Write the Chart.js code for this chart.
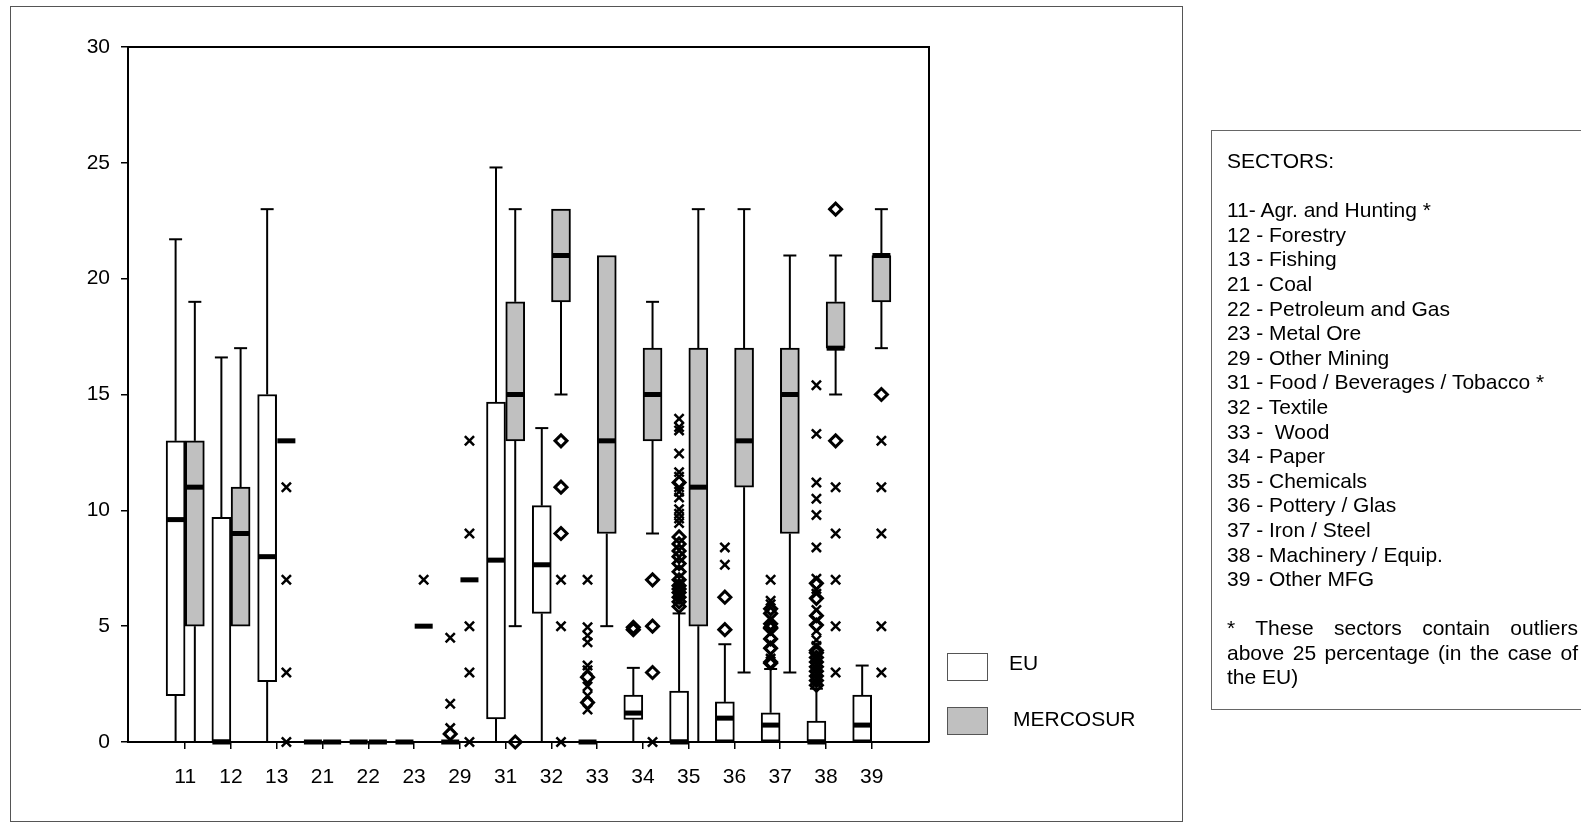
<!DOCTYPE html>
<html>
<head>
<meta charset="utf-8">
<title>EU / MERCOSUR by sector</title>
<script src="https://cdn.jsdelivr.net/npm/chart.js"></script>
<style>
    html, body { margin: 0; padding: 0; background: #fff; overflow: hidden; }
    body { width: 1581px; height: 823px; position: relative; font-family: "Liberation Sans", Arial, sans-serif; color: #000; }
    .frame { position: absolute; left: 10px; top: 6px; width: 1173px; height: 816px; border: 1px solid #555; box-sizing: border-box; }
    .chart-wrap { position: absolute; left: 0; top: 0; width: 1581px; height: 823px; }
    .swatch { position: absolute; left: 947px; width: 41px; height: 28px; border: 1px solid #555; box-sizing: border-box; }
    .legend-label { position: absolute; font-size: 21px; line-height: 24px; }
    .sectors { position: absolute; left: 1211px; top: 130px; width: 420px; height: 580px; border: 1px solid #666; box-sizing: border-box; padding: 18px 0 0 15px; font-size: 21px; line-height: 24.6px; }
    .sectors div { white-space: pre; }
    .sectors p { margin: 0; width: 351px; text-align: justify; }
</style>
</head>
<body>
    <div class="frame"></div>
    <div class="chart-wrap"><canvas id="boxChart"></canvas></div>

    <div class="swatch" style="top:653px; background:#fff;"></div>
    <div class="legend-label" style="left:1009px; top:651px;">EU</div>
    <div class="swatch" style="top:707px; background:#c0c0c0;"></div>
    <div class="legend-label" style="left:1013px; top:707px;">MERCOSUR</div>

    <div class="sectors">
        <div>SECTORS:</div>
        <div> </div>
        <div>11- Agr. and Hunting *</div>
        <div>12 - Forestry</div>
        <div>13 - Fishing</div>
        <div>21 - Coal</div>
        <div>22 - Petroleum and Gas</div>
        <div>23 - Metal Ore</div>
        <div>29 - Other Mining</div>
        <div>31 - Food / Beverages / Tobacco *</div>
        <div>32 - Textile</div>
        <div>33 -  Wood</div>
        <div>34 - Paper</div>
        <div>35 - Chemicals</div>
        <div>36 - Pottery / Glas</div>
        <div>37 - Iron / Steel</div>
        <div>38 - Machinery / Equip.</div>
        <div>39 - Other MFG</div>
        <div> </div>
        <p>* These sectors contain outliers above 25 percentage (in the case of the EU)</p>
    </div>

<script>
    const categories = ['11', '12', '13', '21', '22', '23', '29', '31', '32', '33', '34', '35', '36', '37', '38', '39'];

    // EU boxes
    const euLow    = [0, 0, 0, 0, 0, 0, 0, 0, 0, 0, 0, 0, 0, 0, 0, 0];
    const euQ1     = [2.0, 0, 2.6, 0, 0, 0, 0, 1.0, 5.55, 0, 0.97, 0, 0, 0, 0, 0];
    const euMedian = [9.6, 0, 8.0, 0, 0, 0, 0, 7.85, 7.65, 0, 1.25, 0, 1.03, 0.73, 0, 0.73];
    const euQ3     = [13.0, 9.7, 15.0, 0, 0, 0, 0, 14.67, 10.2, 0, 2.02, 2.2, 1.73, 1.26, 0.9, 2.02];
    const euHigh   = [21.7, 16.6, 23.0, 0, 0, 0, 0, 24.8, 13.55, 0, 3.2, 5.55, 4.22, 3.15, 2.3, 3.3];

    // MERCOSUR boxes
    const mcLow    = [0, 5, 13, 0, 0, 5, 7, 5, 15, 5, 9, 0, 3, 3, 15, 17];
    const mcQ1     = [5, 5, 13, 0, 0, 5, 7, 13, 19, 9, 13, 5, 11, 9, 17, 19];
    const mcMedian = [11, 9, 13, 0, 0, 5, 7, 15, 21, 13, 15, 11, 13, 15, 17, 21];
    const mcQ3     = [13, 11, 13, 0, 0, 5, 7, 19, 23, 21, 17, 17, 17, 17, 19, 21];
    const mcHigh   = [19, 17, 13, 0, 0, 5, 7, 23, 23, 21, 19, 23, 23, 21, 21, 23];

    // outliers (x) and extremes (diamond), one list per sector
    const euCross = [
        [], [], [], [], [], [],
        [4.5, 1.65, 0.6],
        [], [],
        [7.0, 4.95, 4.6, 4.3, 3.3, 3.1, 2.4, 2.0, 1.4],
        [],
        [13.95, 13.6, 13.45, 12.45, 11.65, 11.45, 11.0, 10.8, 10.55, 10.05, 9.85, 9.65, 9.45, 6.85, 6.5, 6.1],
        [8.4, 7.65],
        [7.0, 6.1, 5.95, 5.3, 4.7, 4.25, 3.8, 3.6],
        [15.4, 13.3, 11.2, 10.5, 9.8, 8.4, 7.05, 6.6, 6.4, 5.7, 5.25, 4.8, 4.4, 4.15, 3.75, 3.55, 3.35, 3.15, 2.95, 2.75, 2.55],
        []
    ];
    const euDiamond = [
        [], [], [], [], [], [],
        [0.35],
        [], [],
        [2.8, 1.7],
        [4.85, 4.95],
        [11.2, 8.85, 8.55, 8.25, 8.0, 7.7, 7.35, 7.0, 6.75, 6.6, 6.45, 6.25, 6.05, 5.85],
        [6.25, 4.85],
        [5.75, 5.55, 5.1, 4.9, 4.95, 4.45, 4.05, 3.4, 3.45],
        [6.85, 6.2, 5.45, 5.05, 3.95, 3.85, 3.65, 3.45, 3.25, 3.05, 2.85, 2.65, 2.45],
        []
    ];
    const mcCross = [
        [], [], [11, 7, 3, 0], [], [], [7], [13, 9, 5, 3, 0], [], [7, 5, 0], [], [0], [], [], [], [11, 9, 7, 5, 3], [13, 11, 9, 5, 3]
    ];
    const mcDiamond = [
        [], [], [], [], [], [], [], [0], [13, 11, 9], [], [7, 5, 3], [], [], [], [23, 13], [15]
    ];

    const yTicks = [0, 5, 10, 15, 20, 25, 30];

    const OFF = 0.21; // half a box, in category units
    const groups = [
        { off: -OFF, low: euLow, q1: euQ1, med: euMedian, q3: euQ3, high: euHigh },
        { off: OFF, low: mcLow, q1: mcQ1, med: mcMedian, q3: mcQ3, high: mcHigh }
    ];

    const toPoints = (lists, off) => lists.flatMap((vals, i) => vals.map(v => ({ x: i + off, y: v })));
    const toBoxes = (g) => categories.map((c, i) => ({ x: i + g.off, y: [g.q1[i], g.q3[i]] }));

    // whiskers, caps and median bars
    const boxExtras = {
        id: 'boxExtras',
        afterDatasetsDraw(chart) {
            const { ctx, scales: { x, y } } = chart;
            ctx.save();
            ctx.strokeStyle = '#000';
            ctx.fillStyle = '#000';
            ctx.lineWidth = 2;
            groups.forEach(g => {
                categories.forEach((c, i) => {
                    const cx = x.getPixelForValue(i + g.off);
                    const line = (a, b) => {
                        ctx.beginPath();
                        ctx.moveTo(cx, y.getPixelForValue(a));
                        ctx.lineTo(cx, y.getPixelForValue(b));
                        ctx.stroke();
                        ctx.beginPath();
                        ctx.moveTo(cx - 6.5, y.getPixelForValue(b));
                        ctx.lineTo(cx + 6.5, y.getPixelForValue(b));
                        ctx.stroke();
                    };
                    if (g.high[i] > g.q3[i]) line(g.q3[i], g.high[i]);
                    if (g.low[i] < g.q1[i]) line(g.q1[i], g.low[i]);
                    const ym = y.getPixelForValue(g.med[i]);
                    ctx.fillRect(cx - 9, ym - 2.5, 18, 5);
                });
            });
            ctx.restore();
        }
    };

    const plotFrame = {
        id: 'plotFrame',
        afterDraw(chart) {
            const { ctx, chartArea: a } = chart;
            ctx.save();
            ctx.strokeStyle = '#000';
            ctx.lineWidth = 2;
            ctx.beginPath();
            ctx.moveTo(a.left, a.top);
            ctx.lineTo(a.right, a.top);
            ctx.lineTo(a.right, a.bottom);
            ctx.stroke();
            ctx.restore();
        }
    };

    const pointSet = (data, style) => ({
        type: 'scatter',
        data: data,
        pointStyle: style,
        pointRadius: style === 'crossRot' ? 6.5 : 6,
        pointBorderWidth: style === 'crossRot' ? 2.5 : 3,
        pointBorderColor: '#000',
        pointBackgroundColor: 'rgba(0,0,0,0)',
        clip: false
    });

    Chart.defaults.font.family = "'Liberation Sans', Arial, sans-serif";
    Chart.defaults.font.size = 21;
    Chart.defaults.color = '#000';

    new Chart(document.getElementById('boxChart'), {
        type: 'bar',
        data: {
            datasets: [
                pointSet(toPoints(euCross, -OFF), 'crossRot'),
                pointSet(toPoints(euDiamond, -OFF), 'rectRot'),
                pointSet(toPoints(mcCross, OFF), 'crossRot'),
                pointSet(toPoints(mcDiamond, OFF), 'rectRot'),
                {
                    label: 'EU',
                    data: toBoxes(groups[0]),
                    backgroundColor: '#ffffff',
                    borderColor: '#000',
                    borderWidth: 2,
                    borderSkipped: false,
                    barThickness: 19,
                    grouped: false
                },
                {
                    label: 'MERCOSUR',
                    data: toBoxes(groups[1]),
                    backgroundColor: '#c0c0c0',
                    borderColor: '#000',
                    borderWidth: 2,
                    borderSkipped: false,
                    barThickness: 19,
                    grouped: false
                }
            ]
        },
        options: {
            responsive: true,
            maintainAspectRatio: false,
            animation: false,
            layout: { padding: { left: 10, top: 47, right: 652, bottom: 0 } },
            plugins: {
                legend: { display: false },
                tooltip: { enabled: false }
            },
            scales: {
                x: {
                    type: 'linear',
                    offset: false,
                    min: -1.25,
                    max: 16.25,
                    afterBuildTicks: (axis) => { axis.ticks = categories.map((c, i) => ({ value: i })); },
                    afterFit: (s) => { s.height = 81; },
                    ticks: {
                        callback: (v) => categories[v],
                        autoSkip: false,
                        maxRotation: 0,
                        padding: 16
                    },
                    grid: { offset: false, drawOnChartArea: false, drawTicks: true, tickLength: 7, color: '#000', lineWidth: 1.5 },
                    border: { display: true, color: '#000', width: 2 }
                },
                y: {
                    min: 0,
                    max: 30,
                    afterBuildTicks: (axis) => { axis.ticks = yTicks.map(v => ({ value: v })); },
                    afterFit: (s) => { s.width = 118; },
                    ticks: { padding: 11 },
                    grid: { drawOnChartArea: false, drawTicks: true, tickLength: 7, color: '#000', lineWidth: 1.5 },
                    border: { display: true, color: '#000', width: 2 }
                }
            }
        },
        plugins: [boxExtras, plotFrame]
    });
</script>
</body>
</html>
